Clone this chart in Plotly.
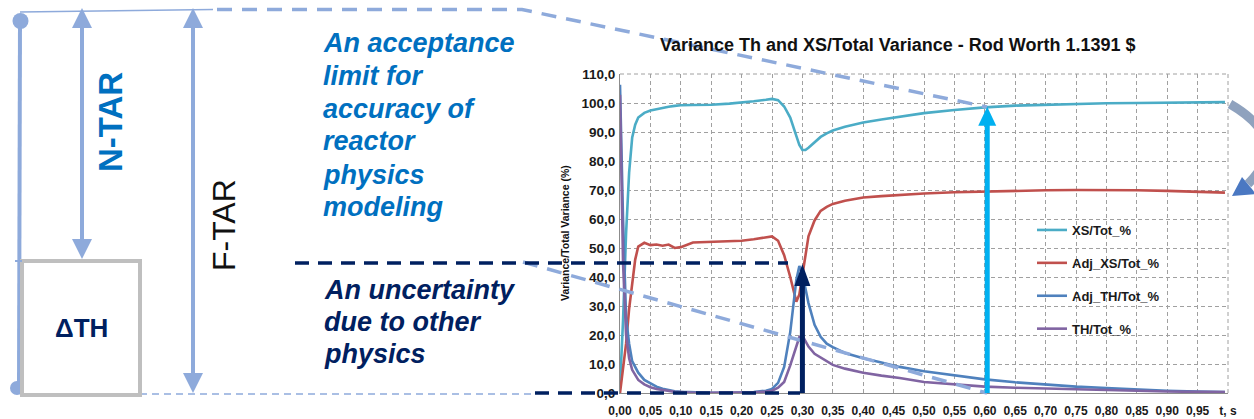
import plotly.graph_objects as go

W, H = 1254, 419

# ---------------- data ----------------
t = [0.0, 0.005, 0.01, 0.015, 0.02, 0.025, 0.03, 0.04, 0.05, 0.06, 0.07, 0.08, 0.09, 0.10,
     0.12, 0.15, 0.18, 0.20, 0.22, 0.24, 0.25, 0.26, 0.27, 0.28, 0.285, 0.29, 0.295, 0.30,
     0.305, 0.31, 0.32, 0.33, 0.34, 0.35, 0.37, 0.40, 0.43, 0.46, 0.50, 0.55, 0.60, 0.65,
     0.70, 0.75, 0.80, 0.85, 0.90, 0.95, 0.995]

xs_tot = [2.0, 25.0, 55.0, 76.0, 88.0, 92.5, 95.0, 96.6, 97.4, 97.9, 98.3, 98.7, 99.0, 99.2,
          99.3, 99.4, 99.8, 100.1, 100.6, 101.1, 101.4, 101.0, 98.8, 95.0, 92.0, 88.5, 85.5, 83.8,
          83.8, 84.6, 86.5, 88.3, 89.5, 90.5, 91.8, 93.3, 94.3, 95.2, 96.5, 97.6, 98.5, 99.1,
          99.4, 99.7, 99.9, 100.0, 100.1, 100.2, 100.3]

adj_xs_tot = [0.0, 8.0, 17.0, 29.0, 38.0, 46.0, 50.5, 51.8, 51.0, 51.2, 50.8, 51.2, 50.0, 50.3,
              51.9, 52.2, 52.3, 52.5, 53.0, 53.8, 54.0, 52.5, 47.5, 40.0, 35.5, 31.5, 34.0, 40.5,
              48.0, 54.0, 59.5, 62.8, 64.2, 65.2, 66.3, 67.4, 67.9, 68.3, 68.8, 69.2, 69.5, 69.8,
              69.9, 70.0, 70.0, 69.9, 69.7, 69.4, 69.1]

adj_th_tot = [106.3, 60.0, 26.0, 17.0, 11.0, 8.8, 7.0, 4.5, 3.2, 2.2, 1.5, 1.0, 0.6, 0.4,
              0.2, 0.1, 0.1, 0.2, 0.3, 0.8, 1.4, 3.5, 9.0, 21.0, 30.0, 39.0, 43.8, 41.0,
              36.0, 31.0, 23.5, 19.4, 17.0, 15.8, 13.8, 12.0, 10.5, 9.0, 7.5, 6.0, 4.7, 3.7,
              2.9, 2.2, 1.7, 1.2, 0.8, 0.5, 0.3]

th_tot = [102.8, 45.0, 20.0, 12.0, 8.0, 6.0, 4.5, 3.0, 2.0, 1.4, 1.0, 0.6, 0.4, 0.3,
          0.1, 0.1, 0.1, 0.1, 0.2, 0.5, 0.8, 1.8, 3.8, 9.5, 13.0, 16.5, 19.3, 19.8,
          18.0, 16.0, 13.5, 12.2, 10.8, 9.7, 8.4, 7.0, 6.0, 5.2, 3.8, 2.9, 2.2, 1.8,
          1.5, 1.2, 0.95, 0.75, 0.5, 0.4, 0.3]

series_names = ["XS/Tot_%", "Adj_XS/Tot_%", "Adj_TH/Tot_%", "TH/Tot_%"]
series_values = [xs_tot, adj_xs_tot, adj_th_tot, th_tot]
series_colors = ["#4BACC6", "#C0504D", "#4F81BD", "#8064A2"]

y_tickvals = [0, 10, 20, 30, 40, 50, 60, 70, 80, 90, 100, 110]
y_ticktext = ["0,0", "10,0", "20,0", "30,0", "40,0", "50,0", "60,0", "70,0", "80,0",
              "90,0", "100,0", "110,0"]
x_tickvals = [0.0, 0.05, 0.10, 0.15, 0.20, 0.25, 0.30, 0.35, 0.40, 0.45, 0.50, 0.55,
              0.60, 0.65, 0.70, 0.75, 0.80, 0.85, 0.90, 0.95, 1.0]
x_ticktext = ["0,00", "0,05", "0,10", "0,15", "0,20", "0,25", "0,30", "0,35", "0,40",
              "0,45", "0,50", "0,55", "0,60", "0,65", "0,70", "0,75", "0,80", "0,85",
              "0,90", "0,95", "t, s"]

chart_title = "Variance Th and XS/Total Variance - Rod Worth 1.1391 $"
y_title = "Variance/Total Variance (%)"

# highlighted points
peak_time, peak_value = 0.30, 44.5     # Adj_TH peak (dark arrow)
xs_time, xs_value = 0.604, 98.7        # XS/Tot at the cyan arrow

acc_lines = ["An acceptance", "limit for", "accuracy of", "reactor", "physics", "modeling"]
unc_lines = ["An uncertainty", "due to other", "physics"]

# ---------------- styling ----------------
LB = "#8EAADB"
NAVY = "#002060"
MIDBLUE = "#0070C0"
CYAN = "#00B0F0"
FONT = "Liberation Sans, Arial, sans-serif"

# plot area in pixels
PL, PR, PT, PB = 620, 1228, 74, 393


def fx(p):
    return p / W


def fy(p):
    return 1 - p / H


def ppath(points, close=False):
    s = "M " + " L ".join(f"{fx(x):.5f} {fy(y):.5f}" for x, y in points)
    return s + (" Z" if close else "")


fig = go.Figure()
for name, vals, col in zip(series_names, series_values, series_colors):
    fig.add_trace(go.Scatter(x=t, y=vals, mode="lines", name=name, legendgroup=name,
                             line=dict(color=col, width=2.6)))

shapes = []
# left vertical bar with end dots
shapes.append(dict(type="line", xref="paper", yref="paper", x0=fx(20), y0=fy(21), x1=fx(19), y1=fy(388),
                   line=dict(color=LB, width=4)))
shapes.append(dict(type="circle", xref="paper", yref="paper", x0=fx(12.5), x1=fx(28.5), y0=fy(29), y1=fy(13),
                   fillcolor=LB, line=dict(color=LB, width=0)))
shapes.append(dict(type="circle", xref="paper", yref="paper", x0=fx(10), x1=fx(24), y0=fy(395), y1=fy(381),
                   fillcolor=LB, line=dict(color=LB, width=0)))
# top thin line
shapes.append(dict(type="line", xref="paper", yref="paper", x0=fx(20), y0=fy(12), x1=fx(213), y1=fy(9.5),
                   line=dict(color=LB, width=1.5)))
# top dashed guide to the XS curve
shapes.append(dict(type="path", xref="paper", yref="paper", path=ppath([(217, 9.5), (522, 9.5), (987, 107)]),
                   line=dict(color=LB, width=3.5, dash="15px,10px")))
# lower slanted dashed guide
shapes.append(dict(type="path", xref="paper", yref="paper", path=ppath([(523, 262), (987, 393)]),
                   line=dict(color=LB, width=3.5, dash="15px,10px")))
# bottom thin dashed line
shapes.append(dict(type="path", xref="paper", yref="paper", path=ppath([(140, 394), (535, 394)]),
                   line=dict(color=LB, width=1.5, dash="7px,5px")))
# navy dashed lines
shapes.append(dict(type="path", xref="paper", yref="paper", path=ppath([(295, 263), (788, 263)]),
                   line=dict(color=NAVY, width=3.5, dash="14px,9px")))
shapes.append(dict(type="path", xref="paper", yref="paper", path=ppath([(535, 393), (800, 393)]),
                   line=dict(color=NAVY, width=3.5, dash="14px,9px")))
# gray box
shapes.append(dict(type="rect", xref="paper", yref="paper", x0=fx(22), x1=fx(140), y0=fy(395), y1=fy(261),
                   line=dict(color="#BFBFBF", width=4), fillcolor="white"))
shapes.append(dict(type="line", xref="paper", yref="paper", x0=fx(15), x1=fx(22), y0=fy(261), y1=fy(261),
                   line=dict(color=LB, width=2)))


def double_arrow(xc, ytop, ybot, head=20, half=10, width=4, color=LB):
    out = [dict(type="line", xref="paper", yref="paper", x0=fx(xc), x1=fx(xc),
                y0=fy(ytop + head - 2), y1=fy(ybot - head + 2), line=dict(color=color, width=width))]
    out.append(dict(type="path", xref="paper", yref="paper",
                    path=ppath([(xc, ytop), (xc - half, ytop + head), (xc + half, ytop + head)], True),
                    fillcolor=color, line=dict(color=color, width=0)))
    out.append(dict(type="path", xref="paper", yref="paper",
                    path=ppath([(xc, ybot), (xc - half, ybot - head), (xc + half, ybot - head)], True),
                    fillcolor=color, line=dict(color=color, width=0)))
    return out


shapes += double_arrow(82, 8, 259)
shapes += double_arrow(193, 8, 393)

# arrows into the chart (data coordinates)
px_per_x = (PR - PL) / 1.0
px_per_y = (PB - PT) / 110.0


def data_arrow(xv, ytip, color, shaft_w, head_len_px, head_half_px):
    base = ytip - head_len_px / px_per_y
    hw = head_half_px / px_per_x
    return [
        dict(type="line", xref="x", yref="y", x0=xv, x1=xv, y0=0, y1=base + 0.5,
             line=dict(color=color, width=shaft_w)),
        dict(type="path", xref="x", yref="y",
             path=f"M {xv - hw:.5f} {base:.3f} L {xv + hw:.5f} {base:.3f} L {xv:.5f} {ytip:.3f} Z",
             fillcolor=color, line=dict(color=color, width=0)),
    ]


shapes += data_arrow(peak_time, peak_value, NAVY, 5, 22, 8)
shapes += data_arrow(xs_time, xs_value, CYAN, 5, 19, 9)

# curved arrow on the right edge (mostly running off the picture)
shapes.append(dict(type="path", xref="paper", yref="paper",
                   path=f"M {fx(1230):.5f} {fy(104):.5f} Q {fx(1292):.5f} {fy(140):.5f} {fx(1248):.5f} {fy(184):.5f}",
                   line=dict(color="#8FA2BE", width=9)))
shapes.append(dict(type="path", xref="paper", yref="paper",
                   path=ppath([(1232, 196), (1242, 177), (1256, 194)], True),
                   fillcolor="#4A78C2", line=dict(color="#4A78C2", width=0)))

# top / right border of plot (dashed grid continuation)
shapes.append(dict(type="line", xref="paper", yref="paper", x0=fx(PL), x1=fx(PR), y0=fy(PT), y1=fy(PT),
                   line=dict(color="#A0A0A0", width=1, dash="4px,3px"), layer="below"))
shapes.append(dict(type="line", xref="paper", yref="paper", x0=fx(PR), x1=fx(PR), y0=fy(PT), y1=fy(PB),
                   line=dict(color="#A0A0A0", width=1, dash="4px,3px"), layer="below"))

annotations = []
annotations.append(dict(text=chart_title, xref="paper", yref="paper", x=fx(898), y=fy(45),
                        xanchor="center", yanchor="middle", showarrow=False,
                        font=dict(family=FONT, size=18, color="#111111", weight="bold")))
annotations.append(dict(text=y_title, xref="paper", yref="paper", x=fx(565), y=fy(233), textangle=-90,
                        xanchor="center", yanchor="middle", showarrow=False,
                        font=dict(family=FONT, size=10.5, color="#111111", weight="bold")))

acc_y = [43, 75.5, 109, 141.5, 175, 207]
for line, yy in zip(acc_lines, acc_y):
    annotations.append(dict(text=f"<b><i>{line}</i></b>", xref="paper", yref="paper", x=fx(321), y=fy(yy),
                            xanchor="left", yanchor="middle", showarrow=False,
                            font=dict(family=FONT, size=27, color=MIDBLUE)))
unc_y = [290, 322, 354]
for line, yy in zip(unc_lines, unc_y):
    annotations.append(dict(text=f"<b><i>{line}</i></b>", xref="paper", yref="paper", x=fx(322), y=fy(yy),
                            xanchor="left", yanchor="middle", showarrow=False,
                            font=dict(family=FONT, size=27, color=NAVY)))

annotations.append(dict(text="<b>N-TAR</b>", xref="paper", yref="paper", x=fx(110), y=fy(122), textangle=-90,
                        xanchor="center", yanchor="middle", showarrow=False,
                        font=dict(family=FONT, size=33, color=MIDBLUE)))
annotations.append(dict(text="F-TAR", xref="paper", yref="paper", x=fx(224), y=fy(225), textangle=-90,
                        xanchor="center", yanchor="middle", showarrow=False,
                        font=dict(family=FONT, size=32, color="#111111")))
annotations.append(dict(text="<b>ΔTH</b>", xref="paper", yref="paper", x=fx(81), y=fy(328),
                        xanchor="center", yanchor="middle", showarrow=False,
                        font=dict(family=FONT, size=26, color=NAVY)))

grid = dict(showgrid=True, gridcolor="#A0A0A0", gridwidth=1, griddash="4px,3px",
            zeroline=False, showline=True, linecolor="#8C8C8C", linewidth=1.2, ticks="",
            automargin=False)

fig.update_layout(
    width=W, height=H, autosize=False,
    margin=dict(l=0, r=0, t=0, b=0),
    paper_bgcolor="white", plot_bgcolor="white",
    showlegend=True,
    legend=dict(x=fx(1032), y=fy(215), xanchor="left", yanchor="top", bgcolor="rgba(0,0,0,0)",
                font=dict(family=FONT, size=13, color="#1A1A1A", weight="bold"),
                tracegroupgap=13, itemwidth=30),
    xaxis=dict(domain=[fx(PL), fx(PR)], range=[0, 1.0], tickvals=x_tickvals, ticktext=x_ticktext,
               tickfont=dict(family=FONT, size=12, color="#1A1A1A", weight="bold"),
               ticklabelstandoff=6, **grid),
    yaxis=dict(domain=[fy(PB), fy(PT)], range=[0, 110], tickvals=y_tickvals, ticktext=y_ticktext,
               tickfont=dict(family=FONT, size=13.5, color="#1A1A1A", weight="bold"),
               ticklabelstandoff=1, **grid),
    shapes=shapes,
    annotations=annotations,
)

fig.write_html("out.html", config={"displayModeBar": False},
               post_script="document.body.style.margin='0px';document.body.style.overflow='hidden';")
